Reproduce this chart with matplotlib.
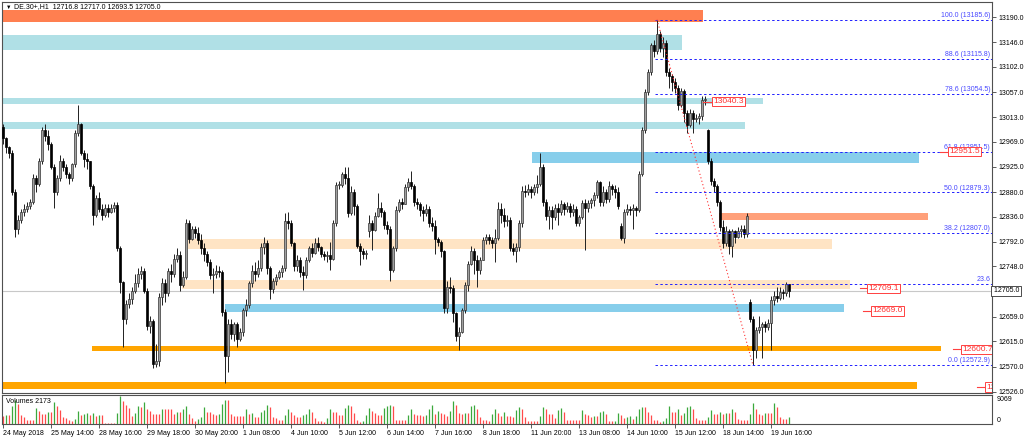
import numpy as np
import matplotlib.pyplot as plt
from matplotlib.patches import Rectangle
import matplotlib.transforms as mtransforms

plt.rcParams['font.family'] = ['Liberation Sans', 'DejaVu Sans']

# DE.30+ H1, 24 May 2018 12:00 .. 19 Jun 2018 (one value per bar)
closes = [
    12975, 12960, 12950, 12880, 12815, 12830, 12845, 12850, 12855, 12862,
    12905, 12895, 12935, 12990, 12980, 12965, 12925, 12880, 12905, 12935,
    12925, 12912, 12905, 12930, 12985, 13000, 12950, 12938, 12935, 12890,
    12840, 12870, 12850, 12840, 12852, 12845, 12852, 12857, 12780, 12720,
    12655, 12682, 12690, 12705, 12718, 12735, 12740, 12705, 12643, 12652,
    12575, 12580, 12693, 12718, 12700, 12740, 12735, 12762, 12768, 12715,
    12730, 12825, 12797, 12815, 12808, 12795, 12780, 12770, 12755, 12732,
    12735, 12740, 12738, 12668, 12590, 12645, 12628, 12645, 12620, 12632,
    12670, 12680, 12718, 12740, 12735, 12745, 12782, 12790, 12745, 12708,
    12722, 12730, 12738, 12745, 12828, 12825, 12790, 12748, 12760, 12738,
    12732, 12760, 12780, 12772, 12790, 12782, 12770, 12766, 12768, 12762,
    12825, 12893, 12893, 12912, 12905, 12842, 12880, 12855, 12785, 12775,
    12770, 12772, 12825, 12812, 12838, 12852, 12845, 12822, 12815, 12742,
    12780, 12848, 12862, 12858, 12888, 12898, 12890, 12862, 12858, 12848,
    12842, 12850, 12825, 12820, 12796, 12792, 12775, 12675, 12712, 12710,
    12665, 12625, 12632, 12670, 12715, 12752, 12775, 12760, 12742, 12760,
    12795, 12800, 12795, 12790, 12798, 12850, 12840, 12828, 12830, 12780,
    12775, 12782, 12825, 12882, 12880, 12885, 12880, 12888, 12895, 12925,
    12862, 12838, 12848, 12835, 12852, 12845, 12858, 12850, 12855, 12845,
    12850, 12825, 12835, 12860, 12852, 12860, 12865, 12875, 12898, 12862,
    12880, 12868, 12890, 12885, 12880, 12855, 12798, 12845, 12850, 12848,
    12852, 12848, 12912, 12990, 13058, 13092, 13140, 13130, 13160, 13135,
    13145, 13093, 13085, 13075, 13065, 13035, 13060, 13020, 12998, 13020,
    13010, 13012, 13015, 13043, 13045, 12935, 12900, 12890, 12862, 12818,
    12790, 12810, 12785, 12810, 12800, 12810, 12815, 12805, 12838, 12655,
    12600, 12635, 12640, 12645, 12640, 12648, 12688, 12695, 12692, 12702,
    12700, 12717, 12705.0,
]
highs = [
    13000, 12978, 12962, 12955, 12885, 12840, 12850, 12858, 12862, 12868,
    12912, 12910, 12940, 12995, 13000, 12990, 12968, 12930, 12910, 12945,
    12940, 12930, 12915, 12932, 12990, 13035, 13002, 12955, 12950, 12935,
    12895, 12875, 12880, 12858, 12858, 12858, 12858, 12862, 12862, 12785,
    12722, 12688, 12700, 12712, 12735, 12745, 12748, 12745, 12710, 12660,
    12655, 12610, 12700, 12728, 12725, 12745, 12752, 12770, 12780, 12775,
    12740, 12832, 12830, 12820, 12820, 12818, 12805, 12790, 12775, 12762,
    12745, 12750, 12748, 12742, 12672, 12655, 12655, 12650, 12650, 12638,
    12675, 12690, 12722, 12750, 12755, 12760, 12790, 12800, 12795, 12748,
    12728, 12735, 12742, 12750, 12842, 12845, 12830, 12792, 12768, 12765,
    12748, 12765, 12785, 12790, 12798, 12800, 12785, 12775, 12775, 12792,
    12830, 12898, 12900, 12915, 12925, 12925, 12890, 12885, 12858, 12790,
    12780, 12778, 12840, 12830, 12845, 12878, 12862, 12848, 12828, 12820,
    12785, 12855, 12868, 12870, 12895, 12905, 12918, 12895, 12870, 12862,
    12855, 12858, 12855, 12835, 12830, 12800, 12795, 12778, 12722, 12730,
    12715, 12668, 12640, 12675, 12720, 12758, 12785, 12780, 12768, 12765,
    12800, 12805, 12805, 12800, 12815, 12862, 12860, 12852, 12840, 12835,
    12790, 12790, 12830, 12890, 12892, 12895, 12890, 12895, 12910, 12950,
    12930, 12868, 12855, 12855, 12858, 12860, 12865, 12862, 12862, 12860,
    12858, 12855, 12840, 12865, 12868, 12865, 12870, 12880, 12902, 12900,
    12890, 12885, 12900, 12895, 12892, 12888, 12825, 12850, 12858, 12855,
    12858, 12855, 12918, 12995, 13062, 13098, 13145, 13150, 13185.6, 13165,
    13155, 13150, 13100, 13090, 13082, 13070, 13065, 13062, 13025, 13028,
    13025, 13018, 13020, 13050, 13050, 12992, 12940, 12905, 12895, 12865,
    12830, 12820, 12815, 12815, 12812, 12818, 12822, 12822, 12842, 12690,
    12660, 12640, 12660, 12650, 12652, 12655, 12695, 12705, 12712, 12712,
    12708, 12720, 12717.0,
]
lows = [
    12965, 12950, 12940, 12875, 12800, 12805, 12825, 12838, 12845, 12850,
    12858, 12880, 12890, 12930, 12970, 12955, 12920, 12852, 12875, 12900,
    12918, 12905, 12895, 12900, 12925, 12980, 12945, 12925, 12920, 12885,
    12822, 12835, 12845, 12830, 12835, 12835, 12842, 12845, 12775, 12700,
    12605, 12645, 12675, 12682, 12700, 12712, 12725, 12700, 12635, 12630,
    12568, 12570, 12572, 12680, 12685, 12695, 12720, 12730, 12755, 12705,
    12712, 12725, 12790, 12795, 12798, 12788, 12770, 12758, 12748, 12725,
    12700, 12728, 12730, 12660, 12541, 12560, 12620, 12615, 12605, 12615,
    12625, 12660, 12675, 12712, 12722, 12730, 12740, 12770, 12735, 12690,
    12700, 12715, 12725, 12730, 12740, 12815, 12785, 12740, 12740, 12730,
    12706, 12728, 12755, 12765, 12770, 12775, 12765, 12760, 12755, 12742,
    12760, 12820, 12885, 12888, 12895, 12835, 12840, 12840, 12780, 12750,
    12762, 12762, 12800, 12778, 12810, 12835, 12835, 12815, 12805, 12722,
    12738, 12775, 12845, 12850, 12860, 12882, 12885, 12855, 12850, 12838,
    12828, 12838, 12818, 12810, 12770, 12785, 12765, 12665, 12665, 12700,
    12650, 12615, 12600, 12630, 12665, 12705, 12750, 12735, 12712, 12735,
    12760, 12788, 12788, 12780, 12755, 12795, 12825, 12818, 12820, 12775,
    12768, 12755, 12775, 12818, 12872, 12875, 12870, 12875, 12878, 12890,
    12855, 12830, 12815, 12815, 12830, 12822, 12840, 12840, 12845, 12835,
    12838, 12820, 12820, 12832, 12777, 12845, 12852, 12855, 12870, 12855,
    12855, 12860, 12862, 12875, 12870, 12850, 12795, 12790, 12840, 12840,
    12815, 12838, 12845, 12908, 12985, 13052, 13088, 13120, 13125, 13128,
    13120, 13085, 13065, 13060, 13055, 13025, 13030, 13005, 12985, 12995,
    12985, 13005, 13000, 13008, 13035, 12930, 12892, 12880, 12855, 12810,
    12780, 12785, 12770, 12765, 12790, 12798, 12800, 12798, 12800, 12650,
    12572.9, 12585, 12630, 12585, 12632, 12635, 12600, 12680, 12685, 12688,
    12690, 12695, 12693.5,
]
# opens that differ from the previous close (session gaps)
gap_opens = {0: 12995, 122: 12810, 206: 12820, 235: 12990, 249: 12685, 262: 12716.8}

volumes = [
    2575, 2880, 2880, 5665, 7500, 6500, 2880, 2270, 1240, 1240,
    1240, 5150, 4120, 3300, 3090, 3900, 3900, 7000, 5665, 4330,
    2270, 1850, 1240, 1030, 1545, 4120, 2880, 3300, 3600, 2880,
    3600, 2575, 2880, 2880, 410, 410, 410, 300, 3600, 9069,
    7400, 6180, 5150, 2575, 3600, 5870, 5360, 7000, 4635, 4120,
    3300, 3300, 3300, 4940, 4940, 4940, 4940, 3300, 3900, 3900,
    4635, 5665, 3090, 2060, 1030, 1545, 2270, 5360, 3900, 3900,
    3090, 2880, 3090, 6390, 7725, 7725, 3090, 2575, 2575, 2575,
    2575, 4840, 3300, 3600, 2370, 2370, 3800, 4330, 5975, 5360,
    2270, 1850, 1240, 1240, 2880, 4940, 3900, 2880, 2270, 2270,
    2880, 3090, 4635, 3900, 1850, 820, 820, 515, 2060, 4635,
    3900, 3900, 2880, 2880, 5150, 5975, 5665, 3600, 1240, 515,
    1030, 2880, 5150, 4120, 3600, 2880, 2880, 5150, 5665, 6180,
    5665, 1240, 1240, 1240, 1240, 2880, 4635, 3300, 2880, 2880,
    2575, 2880, 4635, 5975, 3300, 4120, 3600, 3300, 2575, 4120,
    7210, 6180, 3600, 3090, 3600, 3600, 5665, 5975, 4940, 2270,
    1240, 1240, 1030, 3090, 4940, 3600, 2575, 3900, 2575, 2575,
    2370, 4330, 5360, 4635, 2270, 1030, 820, 820, 820, 2575,
    5360, 4635, 3300, 3090, 2060, 4330, 5150, 3900, 1240, 1240,
    1240, 1240, 1240, 4330, 3090, 2880, 2270, 2575, 2575, 3900,
    4120, 3090, 820, 820, 1030, 3600, 2880, 1850, 2270, 2575,
    1545, 2575, 4635, 5360, 5360, 3900, 2880, 1240, 1240, 515,
    1030, 2060, 5870, 3900, 3900, 4635, 2880, 3600, 5360, 5870,
    4940, 1850, 1240, 1240, 1240, 2270, 4330, 3300, 3300, 3900,
    3090, 3600, 3600, 4940, 3900, 1545, 1240, 1240, 1240, 3300,
    6700, 4940, 3300, 2880, 3600, 3600, 3600, 6700, 5360, 2270,
    1545, 1545, 2173,
]

time_ticks = [0, 16, 32, 48, 64, 80, 96, 112, 128, 144, 160, 176, 192, 208, 224, 240, 256]
time_labels = ['24 May 2018', '25 May 14:00', '28 May 16:00', '29 May 18:00', '30 May 20:00',
               '1 Jun 08:00', '4 Jun 10:00', '5 Jun 12:00', '6 Jun 14:00', '7 Jun 16:00',
               '8 Jun 18:00', '11 Jun 20:00', '13 Jun 08:00', '14 Jun 10:00', '15 Jun 12:00',
               '18 Jun 14:00', '19 Jun 16:00']
price_ticks = [13190.0, 13146.0, 13102.0, 13057.0, 13013.0, 12969.0, 12925.0, 12880.0,
               12836.0, 12792.0, 12748.0, 12659.0, 12615.0, 12570.0, 12526.0]
bid = 12705.0
vol_max = 9069

# rectangles: (first bar, last bar, low, high, colour)
zones = [
    (-2, 233.2, 13181.0, 13203.0, '#ff7f50'),
    (-2, 226.3, 13132.0, 13158.6, '#b0e0e6'),
    (-2, 253.2, 13036.7, 13047.4, '#b0e0e6'),
    (-2, 247.3, 12992.4, 13003.7, '#b0e0e6'),
    (176.2, 305.4, 12932.0, 12951.6, '#87ceeb'),
    (238.8, 308.4, 12830.0, 12842.0, '#ffa07a'),
    (61.7, 276.3, 12778.5, 12797.0, '#ffe4c4'),
    (59.6, 282.3, 12707.5, 12724.0, '#ffe4c4'),
    (74.0, 280.3, 12666.7, 12681.4, '#87ceeb'),
    (29.8, 312.6, 12598.5, 12607.0, '#ffa500'),
    (-2, 304.6, 12530.6, 12543.6, '#ffa500'),
]

fib_levels = ['0.0', '23.6', '38.2', '50.0', '61.8', '78.6', '88.6', '100.0']
fib_prices = [12572.9, 12717.5, 12807.0, 12879.3, 12951.5, 13054.5, 13115.8, 13185.6]
fib_start, fib_end = 218, 250

# red price labels: (price, stub start bar, box start bar)
price_marks = [
    (13040.3, 233.3, 236.3),
    (12951.5, 312.3, 315.0),
    (12709.1, 285.7, 288.0),
    (12669.0, 286.7, 289.3),
    (12600.7, 316.7, 319.3),
    (12534.0, 324.7, 327.3),
]

n = len(closes)
idx = np.arange(n)
opens = [gap_opens.get(i, closes[i - 1] if i else closes[0]) for i in range(n)]

fig = plt.figure(figsize=(10.24, 4.4), dpi=100)
W, H = 1024.0, 440.0
ax = fig.add_axes([2 / W, 1 - 393 / H, 990 / W, 391 / H])
axv = fig.add_axes([2 / W, 1 - 424 / H, 990 / W, 29 / H])

xmin, xmax = -1 / 3, 329.67
ax.set_xlim(xmin, xmax)
ax.set_ylim(12523.5, 13217.0)

for x0, x1, lo, hi, col in zones:
    ax.add_patch(Rectangle((x0, lo), x1 - x0, hi - lo, facecolor=col, edgecolor='none', zorder=1))

ax.axhline(bid, color='#c8c8c8', lw=0.8, zorder=1.5)

# candles
o = np.array(opens, float)
c = np.array(closes, float)
hi = np.maximum(np.array(highs, float), np.maximum(o, c))
lo = np.minimum(np.array(lows, float), np.minimum(o, c))
up = c >= o
ax.vlines(idx, lo, hi, color='#202020', lw=0.7, zorder=3)
body = np.maximum(np.abs(c - o), 1.6)
bottom = np.minimum(o, c)
ax.bar(idx[up], body[up], bottom=bottom[up], width=0.7, color='#a0a0a0',
       edgecolor='#333333', linewidth=0.5, zorder=4)
ax.bar(idx[~up], body[~up], bottom=bottom[~up], width=0.7, color='black',
       edgecolor='black', linewidth=0.5, zorder=4)

# fibonacci
for lev, p in zip(fib_levels, fib_prices):
    ax.plot([fib_start - 0.5, xmax], [p, p], color='#2020ff', lw=0.7,
            linestyle=(0, (2.5, 2.5)), zorder=5)
    txt = lev if lev == '23.6' else '%s (%.1f)' % (lev, p)
    ax.text(xmax - 0.6, p + 1.5, txt, color='#4848ff', fontsize=5, ha='right',
            va='bottom', zorder=6)
ax.plot([fib_start, fib_end], [fib_prices[-1], fib_prices[0]], color='#ff3030', lw=0.8,
        linestyle=(0, (1, 2.2)), zorder=5)

# red price labels
for p, s0, b0 in price_marks:
    ax.plot([s0, b0], [p, p], color='#ff4040', lw=0.8, zorder=6, clip_on=True)
    ax.text(b0 + 0.5, p, '%.1f' % p, color='#ff3030', fontsize=6, ha='left', va='center',
            zorder=7, clip_on=True,
            bbox=dict(boxstyle='square,pad=0.15', fc='white', ec='#ff4040', lw=0.7))

ax.set_xticks([])
ax.yaxis.tick_right()
ax.set_yticks(price_ticks)
ax.set_yticklabels(['%.1f' % v for v in price_ticks])
ax.tick_params(axis='y', labelsize=5, length=3, width=0.6, pad=2, color='#404040')
ax.text(1.0, bid, ' %.1f' % bid, transform=mtransforms.blended_transform_factory(ax.transAxes, ax.transData),
        fontsize=5, ha='left', va='center', color='black', zorder=8, clip_on=False,
        bbox=dict(boxstyle='square,pad=0.2', fc='white', ec='#303030', lw=0.6))
for sp in ax.spines.values():
    sp.set_color('#505050')
    sp.set_linewidth(0.8)

fig.text(6 / W, 1 - 7 / H, '▼', fontsize=4, va='center', ha='left')
fig.text(14 / W, 1 - 7 / H, 'DE.30+,H1  12716.8 12717.0 12693.5 12705.0', fontsize=5,
         va='center', ha='left')

# volumes
vcols = ['#3ca83c' if i > 0 and volumes[i] > volumes[i - 1] else '#ff4a4a' for i in range(n)]
axv.vlines(idx, 0, volumes, colors=vcols, lw=0.9)
axv.set_xlim(xmin, xmax)
axv.set_ylim(0, vol_max * 1.02)
axv.set_yticks([])
axv.set_xticks(time_ticks)
axv.set_xticklabels(time_labels)
for lab in axv.get_xticklabels():
    lab.set_ha('left')
axv.tick_params(axis='x', labelsize=5, length=3, width=0.6, pad=1.5, color='#404040')
axv.text(0.004, 0.78, 'Volumes 2173', transform=axv.transAxes, fontsize=5, va='center')
vtr = mtransforms.blended_transform_factory(axv.transAxes, axv.transData)
axv.text(1.005, vol_max, str(vol_max), transform=vtr, fontsize=5, va='top', ha='left')
axv.text(1.005, 0, '0', transform=vtr, fontsize=5, va='bottom', ha='left')
for sp in axv.spines.values():
    sp.set_color('#505050')
    sp.set_linewidth(0.8)

fig.savefig('out.png', dpi=100, facecolor='white')
